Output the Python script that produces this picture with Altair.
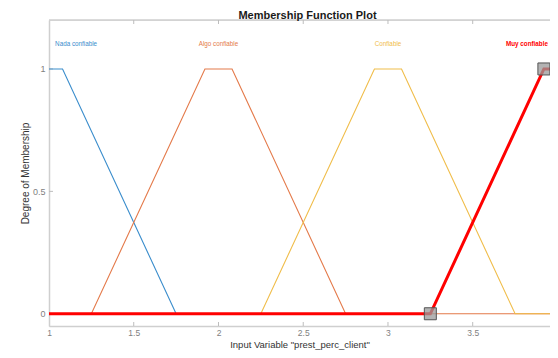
import altair as alt
import pandas as pd

# ---- data ----
mf_names = ["Nada confiable", "Algo confiable", "Confiable", "Muy confiable"]
mf_colors = ["#3A8DCC", "#E47A4A", "#F0BD4A", "#FF0000"]

nada_x = [1.0, 1.08, 1.75]
nada_y = [1, 1, 0]
algo_x = [1.0, 1.25, 1.92, 2.08, 2.75, 4.0]
algo_y = [0, 0, 1, 1, 0, 0]
conf_x = [1.0, 2.25, 2.92, 3.08, 3.75, 4.0]
conf_y = [0, 0, 1, 1, 0, 0]
muy_x = [1.0, 3.25, 3.92, 4.0]
muy_y = [0, 0, 1, 1]

label_x = [1.16, 2.0, 3.0, 3.82]
label_y = 1.1

marker_x = [3.25, 3.92]
marker_y = [0, 1]

x_ticks = [1, 1.5, 2, 2.5, 3, 3.5]
y_ticks = [0, 0.5, 1]

chart_title = "Membership Function Plot"

x_domain = [1, 3.956]
y_domain = [-0.05, 1.2]

W, H = 501, 306
FONT = "Liberation Sans"
AXC = "#cfcfcf"

xs = alt.Scale(domain=x_domain, nice=False, zero=False)
ys = alt.Scale(domain=y_domain, nice=False, zero=False)

x_axis = alt.Axis(values=x_ticks, format="~g", ticks=False, grid=False, domainColor=AXC,
                  domainWidth=1.5, labelColor="#7f7f7f", labelFontSize=8.5, labelFont=FONT,
                  labelPadding=2, title='Input Variable "prest_perc_client"', titleFont=FONT,
                  titleFontSize=9.5, titleFontWeight="normal", titleColor="#333333",
                  titleBaseline="alphabetic", titleY=21.5, labelFlush=False)
y_axis = alt.Axis(values=y_ticks, format="~g", ticks=False, grid=False, domainColor=AXC,
                  domainWidth=1.5, labelColor="#7f7f7f", labelFontSize=9, labelFont=FONT,
                  labelPadding=4, title="Degree of Membership", titleFont=FONT,
                  titleFontSize=10, titleFontWeight="normal", titleColor="#333333",
                  titlePadding=2)

series = [(nada_x, nada_y), (algo_x, algo_y), (conf_x, conf_y)]
layers = []

# frame: top line and inward ticks
top_df = pd.DataFrame({"v": [0]})
layers.append(alt.Chart(top_df).mark_rule(color=AXC, strokeWidth=1.5).encode(
    x=alt.value(0), x2=alt.value(W), y=alt.value(0)))
xt_df = pd.DataFrame({"x": x_ticks[1:]})
layers.append(alt.Chart(xt_df).mark_rule(color="#bdbdbd", strokeWidth=1).encode(
    x=alt.X("x:Q", scale=xs, axis=x_axis), y=alt.value(0), y2=alt.value(4)))
layers.append(alt.Chart(xt_df).mark_rule(color="#bdbdbd", strokeWidth=1).encode(
    x=alt.X("x:Q", scale=xs), y=alt.value(H - 4), y2=alt.value(H)))
yt_df = pd.DataFrame({"y": y_ticks})
layers.append(alt.Chart(yt_df).mark_rule(color="#bdbdbd", strokeWidth=1).encode(
    y=alt.Y("y:Q", scale=ys, axis=y_axis), x=alt.value(0), x2=alt.value(4)))

for (sx, sy), name, col in zip(series, mf_names[:3], mf_colors[:3]):
    df = pd.DataFrame({"x": sx, "y": sy, "o": list(range(len(sx)))})
    layers.append(alt.Chart(df).mark_line(color=col, strokeWidth=1.1, clip=True).encode(
        x=alt.X("x:Q", scale=xs), y=alt.Y("y:Q", scale=ys), order="o:Q"))

muy_df = pd.DataFrame({"x": muy_x, "y": muy_y, "o": list(range(len(muy_x)))})
layers.append(alt.Chart(muy_df).mark_line(color=mf_colors[3], strokeWidth=3, clip=True).encode(
    x=alt.X("x:Q", scale=xs), y=alt.Y("y:Q", scale=ys), order="o:Q"))

mk_df = pd.DataFrame({"x": marker_x, "y": marker_y})
layers.append(alt.Chart(mk_df).mark_point(shape="square", size=144, filled=True,
                                          fill="#9a9a9a", fillOpacity=0.75,
                                          stroke="#555555", strokeWidth=1, opacity=1).encode(
    x=alt.X("x:Q", scale=xs), y=alt.Y("y:Q", scale=ys)))

for i, (name, col, lx) in enumerate(zip(mf_names, mf_colors, label_x)):
    tdf = pd.DataFrame({"x": [lx], "y": [label_y], "t": [name]})
    layers.append(alt.Chart(tdf).mark_text(
        font=FONT, fontSize=6.3, color=col, fontWeight="bold" if i == 3 else "normal").encode(
        x=alt.X("x:Q", scale=xs), y=alt.Y("y:Q", scale=ys), text="t:N"))

# chart title as text above the plot area
ttl_df = pd.DataFrame({"t": [chart_title]})
layers.append(alt.Chart(ttl_df).mark_text(
    font=FONT, fontSize=11, fontWeight="bold", color="#1a1a1a",
    baseline="alphabetic", align="center").encode(
    x=alt.value(W / 2 + 8), y=alt.value(-1.5), text="t:N"))

chart = alt.layer(*layers).properties(
    width=W, height=H,
    autosize=alt.AutoSizeParams(type="none"),
    padding={"left": 41, "top": 12, "right": 0, "bottom": 24},
).configure_view(stroke=None).configure(background="white")

chart.save("out.html", embed_options={"renderer": "svg", "actions": False})
